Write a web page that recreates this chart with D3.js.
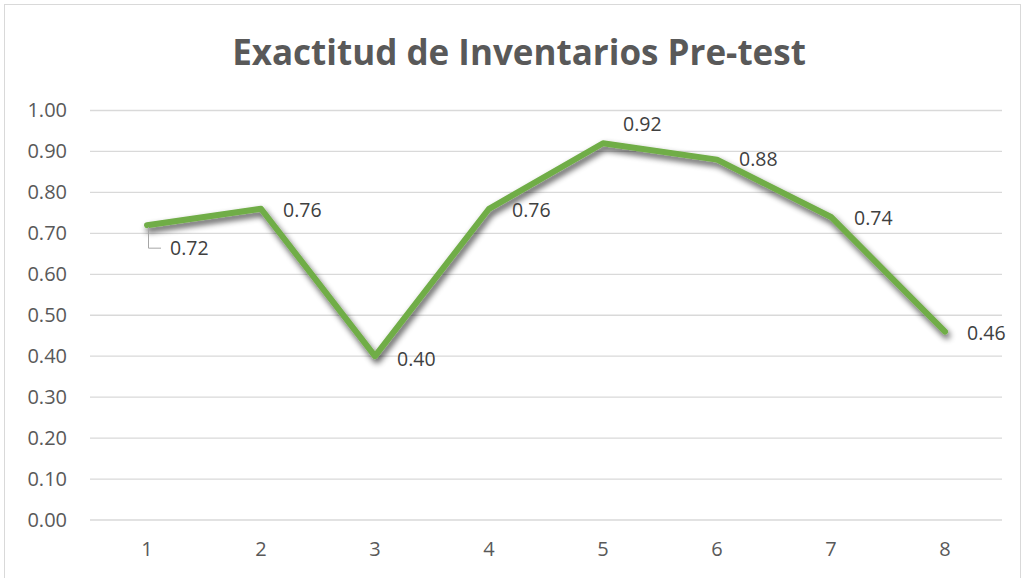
<!DOCTYPE html>
<html>
<head>
<meta charset="utf-8">
<script src="https://cdn.jsdelivr.net/npm/d3@7"></script>
<style>
  body { margin: 0; background: #fff; }
  text { font-family: "Open Sans", "Liberation Sans", sans-serif; }
</style>
</head>
<body>
<svg id="chart"></svg>
<script>
// chart data
const categories = ['1', '2', '3', '4', '5', '6', '7', '8'];
const values = [0.72, 0.76, 0.40, 0.76, 0.92, 0.88, 0.74, 0.46];
const yTicks = [0, 0.1, 0.2, 0.3, 0.4, 0.5, 0.6, 0.7, 0.8, 0.9, 1.0];
const title = 'Exactitud de Inventarios Pre-test';

const width = 1024, height = 578;
const plot = {left: 90, right: 1002, top: 110.5, bottom: 520};

let svg = d3.select('#chart')
  .attr('width', width)
  .attr('height', height);

// drop shadow for the line
let defs = svg.append('defs');
let f = defs.append('filter').attr('id', 'shadow')
  .attr('x', '-10%').attr('y', '-10%').attr('width', '120%').attr('height', '130%');
f.append('feGaussianBlur').attr('in', 'SourceAlpha').attr('stdDeviation', 3).attr('result', 'blur');
f.append('feOffset').attr('in', 'blur').attr('dx', 2).attr('dy', 4).attr('result', 'off');
f.append('feComponentTransfer').attr('in', 'off').attr('result', 'sh')
  .append('feFuncA').attr('type', 'linear').attr('slope', 0.7);
let merge = f.append('feMerge');
merge.append('feMergeNode').attr('in', 'sh');
merge.append('feMergeNode').attr('in', 'SourceGraphic');

// chart border
svg.append('rect')
  .attr('x', 4.5).attr('y', 4.5)
  .attr('width', width - 8).attr('height', height)
  .attr('fill', 'none')
  .attr('stroke', '#d9d9d9');

svg.append('text')
  .attr('x', 519).attr('y', 65)
  .attr('text-anchor', 'middle')
  .style('font-size', '35px')
  .style('font-weight', 'bold')
  .attr('fill', '#595959')
  .text(title);

let x = d3.scaleBand().domain(categories).range([plot.left, plot.right]);
let y = d3.scaleLinear().domain([0, 1]).range([plot.bottom, plot.top]);

// gridlines
svg.append('g')
  .selectAll('line')
  .data(yTicks)
  .enter()
  .append('line')
  .attr('x1', plot.left).attr('x2', plot.right)
  .attr('y1', d => y(d)).attr('y2', d => y(d))
  .style('stroke', '#d9d9d9')
  .style('stroke-width', 1.3);

// y axis labels
let yAxis = d3.axisLeft(y).tickValues(yTicks).tickFormat(d3.format('.2f')).tickSize(0).tickPadding(0);
let yg = svg.append('g').attr('transform', `translate(${plot.left - 23},0)`).call(yAxis);
yg.select('.domain').remove();
yg.selectAll('text').style('font-size', '20px').attr('fill', '#595959').attr('font-family', null);

// x axis labels
let xAxis = d3.axisBottom(x).tickSize(0).tickPadding(0);
let xg = svg.append('g').attr('transform', `translate(0,${plot.bottom + 22})`).call(xAxis);
xg.select('.domain').remove();
xg.selectAll('text').style('font-size', '20px').attr('fill', '#595959').attr('font-family', null);

const cx = d => x(d) + x.bandwidth() / 2;

let line = d3.line()
  .x((d, i) => cx(categories[i]))
  .y(d => y(d));

svg.append('path')
  .datum(values)
  .attr('d', line)
  .attr('fill', 'none')
  .attr('stroke', '#70ad47')
  .attr('stroke-width', 6)
  .attr('stroke-linejoin', 'round')
  .attr('stroke-linecap', 'round')
  .attr('filter', 'url(#shadow)');

// data labels: mostly to the right; first is moved down with a leader line, fifth moved up
const labelOffsets = [[23, 30], [22, 8], [22, 10], [23, 8], [20, -12], [22, 6], [23, 8], [22, 8]];

svg.append('path')
  .attr('d', () => {
    let px = cx(categories[0]), py = y(values[0]);
    return `M${px + 1.5},${py + 2} V${py + 23} H${px + 14}`;
  })
  .attr('fill', 'none')
  .attr('stroke', '#a6a6a6')
  .attr('stroke-width', 1);

svg.append('g')
  .selectAll('text')
  .data(values)
  .enter()
  .append('text')
  .attr('x', (d, i) => cx(categories[i]) + labelOffsets[i][0])
  .attr('y', (d, i) => y(d) + labelOffsets[i][1])
  .style('font-size', '19.5px')
  .attr('fill', '#404040')
  .text(d => d.toFixed(2));
</script>
</body>
</html>
